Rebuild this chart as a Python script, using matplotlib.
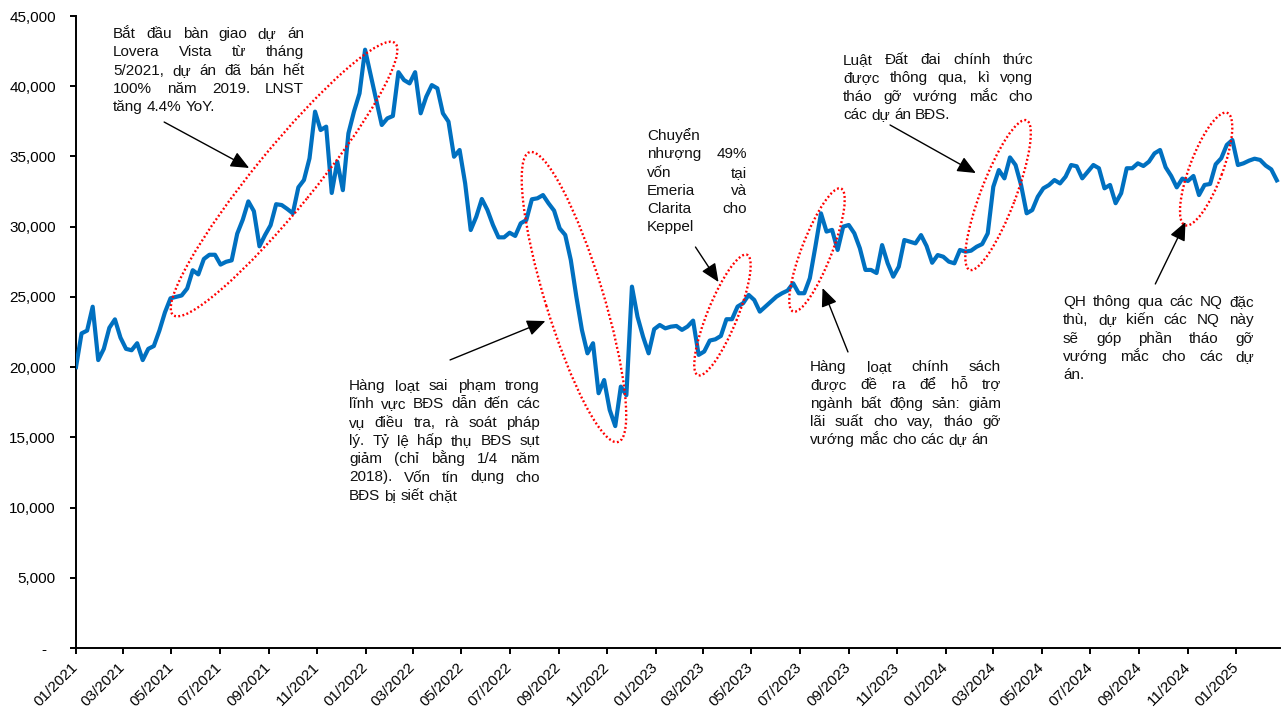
import numpy as np
import pandas as pd
import matplotlib
matplotlib.use('Agg')
import matplotlib.pyplot as plt
import matplotlib.dates as mdates
import matplotlib.transforms as mtransforms
from matplotlib.patches import Ellipse
from matplotlib.ticker import FuncFormatter, MultipleLocator

# font: Arial-like, có dấu tiếng Việt
plt.rcParams['font.family'] = ['Liberation Sans', 'Roboto', 'DejaVu Sans']
plt.rcParams['font.size'] = 11

# 1. Dữ liệu giá đóng cửa theo tuần (đồng), bắt đầu 01/01/2021
start_date = '2021-01-01'
price = [
    20000, 22400, 22600, 24300, 20500, 21300, 22800, 23400, 22100, 21300,
    21200, 21700, 20500, 21300, 21500, 22600, 23900, 24900, 25000, 25100,
    25600, 26900, 26600, 27700, 28000, 28000, 27300, 27500, 27600, 29500,
    30500, 31800, 31100, 28600, 29400, 30100, 31600,
    31540, 31260, 30950, 32800, 33320, 34860, 38190, 36880, 37120, 32400,
    34630, 32600, 36640, 38190, 39490, 42600, 40800, 39020, 37240, 37710,
    37880, 41000, 40440, 40200, 41000, 38070, 39250, 40080, 39850, 38070,
    37480, 34980, 35460, 33080, 29760, 30710,
    31970, 31190, 30120, 29240, 29240, 29570, 29340, 30240, 30470, 31950,
    32020, 32250, 31660, 31140, 29880, 29410, 27630, 25020, 22650, 20980,
    21700, 18140, 19080, 16950, 15800, 18610, 18000, 25730, 23590, 22170,
    20980, 22700, 23000, 22760, 22880, 22930,
    22650, 22890, 23310, 20870, 21110, 21890, 21980, 22220, 23410, 23410,
    24310, 24550, 25140, 24780, 23950, 24310, 24660, 25020, 25260, 25450,
    25970, 25260, 25260, 26330, 28580, 30950, 29650, 29770, 28340, 30000,
    30120, 29530, 28460, 26920, 26920, 26700,
    28690, 27390, 26440, 27150, 29050, 28930, 28810, 29400, 28620, 27430,
    27980, 27860, 27510, 27390, 28340, 28220, 28290, 28570, 28760, 29520,
    32840, 34030, 33440, 34930, 34390, 32960, 30950, 31180, 32130, 32730,
    32960, 33320, 33080, 33560, 34390, 34300,
    33440, 33920, 34390, 34160, 32730, 32970, 31670, 32380, 34160, 34160,
    34510, 34320, 34630, 35220, 35460, 34230, 33610, 32800, 33420, 33250,
    33610, 32250, 32970, 33040, 34440, 34870, 35820, 36170, 34390, 34510,
    34700, 34840, 34750, 34350, 34080, 33300,
]
dates = pd.date_range(start_date, periods=len(price), freq='7D')

# 2. Các vùng khoanh đỏ: tâm (ngày, giá), kích thước (px), góc
ell_center_date = ['2021-09-20', '2022-09-20', '2023-03-26', '2023-07-23', '2024-03-07', '2024-11-24']
ell_center_val = [33390, 24990, 23710, 28340, 32250, 34100]
ell_size = [(351, 60), (303, 58), (130, 30), (132, 30), (160, 35), (120, 33)]
ell_angle = [50.8, -73, 67.8, 68.7, 69.2, 69.4]

# 3. Mũi tên: đuôi -> đầu (ngày, giá)
arrow_tail = [('2021-04-22', 37450), ('2022-04-17', 20510), ('2023-02-20', 28550),
              ('2023-08-31', 21080), ('2023-10-23', 37240), ('2024-09-21', 25920)]
arrow_head = [('2021-08-07', 34180), ('2022-08-15', 23280), ('2023-03-21', 26060),
              ('2023-07-30', 25630), ('2024-02-08', 33820), ('2024-10-29', 30330)]

# 4. Ghi chú (căn đều hai bên)
notes = [
    ["Bắt đầu bàn giao dự án", "Lovera Vista từ tháng", "5/2021, dự án đã bán hết",
     "100% năm 2019. LNST", "tăng 4.4% YoY."],
    ["Hàng loạt sai phạm trong", "lĩnh vực BĐS dẫn đến các", "vụ điều tra, rà soát pháp",
     "lý. Tỷ lệ hấp thụ BĐS sụt", "giảm (chỉ bằng 1/4 năm", "2018). Vốn tín dụng cho",
     "BĐS bị siết chặt"],
    ["Chuyển", "nhượng 49%", "vốn tại", "Emeria và", "Clarita cho", "Keppel"],
    ["Hàng loạt chính sách", "được đề ra để hỗ trợ", "ngành bất động sản: giảm",
     "lãi suất cho vay, tháo gỡ", "vướng mắc cho các dự án"],
    ["Luật Đất đai chính thức", "được thông qua, kì vọng", "tháo gỡ vướng mắc cho",
     "các dự án BĐS."],
    ["QH thông qua các NQ đặc", "thù, dự kiến các NQ này", "sẽ góp phần tháo gỡ",
     "vướng mắc cho các dự", "án."],
]
# vị trí khung chữ (px tính từ góc trên trái): trái, phải, baseline dòng đầu
note_box = [(113, 304, 38), (349, 540, 390), (647, 747, 140),
            (810, 1001, 371), (843, 1033, 64), (1063, 1254, 306)]

# 5. Vẽ
W, H = 1285, 713
fig = plt.figure(figsize=(W / 100, H / 100), dpi=100)
ax = fig.add_axes([76 / W, 1 - 648 / H, (1280 - 76) / W, (648 - 16) / H])

ax.plot(dates, price, color='#0070C0', lw=3.0, solid_joinstyle='round', zorder=3)

ax.set_xlim(pd.Timestamp('2021-01-01'), pd.Timestamp('2025-02-25'))
ax.set_ylim(0, 45000)
ax.yaxis.set_major_locator(MultipleLocator(5000))
ax.yaxis.set_major_formatter(FuncFormatter(lambda v, p: '-  ' if v == 0 else f'{v:,.0f}'))
ax.xaxis.set_major_locator(mdates.MonthLocator(bymonth=[1, 3, 5, 7, 9, 11]))
ax.xaxis.set_major_formatter(mdates.DateFormatter('%m/%Y'))
for s in ['top', 'right']:
    ax.spines[s].set_visible(False)
for s in ['left', 'bottom']:
    ax.spines[s].set_linewidth(1.4)
ax.tick_params(axis='both', direction='out', length=4.5, width=1.4, labelsize=11)
ax.tick_params(axis='y', pad=10)
ax.tick_params(axis='x', pad=8)
for lab in ax.get_xticklabels():
    lab.set_rotation(45)
    lab.set_ha('right')
    lab.set_va('center')
    lab.set_rotation_mode('anchor')

# vòng elip chấm đỏ
for d, v, (w, h), a in zip(ell_center_date, ell_center_val, ell_size, ell_angle):
    cx, cy = ax.transData.transform((mdates.date2num(pd.Timestamp(d)), v))
    ax.add_patch(Ellipse((cx, cy), w, h, angle=a, transform=mtransforms.IdentityTransform(),
                         fill=False, ec='red', lw=1.7, ls=(0, (0.8, 1.0)), clip_on=False, zorder=4))

# mũi tên
for (td, tv), (hd, hv) in zip(arrow_tail, arrow_head):
    ax.annotate('', xy=(mdates.date2num(pd.Timestamp(hd)), hv),
                xytext=(mdates.date2num(pd.Timestamp(td)), tv),
                arrowprops=dict(arrowstyle='-|>,head_length=0.8,head_width=0.35',
                                color='black', lw=1.0, mutation_scale=14,
                                shrinkA=0, shrinkB=0),
                annotation_clip=False, zorder=5)

# chữ căn đều
px = mtransforms.Affine2D().scale(1, -1).translate(0, H)
renderer = fig.canvas.get_renderer()
step = 18.3
space = 11 * 100 / 72 * 0.278
for lines, (left, right, top) in zip(notes, note_box):
    for i, line in enumerate(lines):
        words = line.split()
        arts = [fig.text(0, 0, w, transform=px, fontsize=11, va='baseline', color='#111111')
                for w in words]
        widths = [a.get_window_extent(renderer).width for a in arts]
        last = i == len(lines) - 1 or len(words) == 1
        gap = space if last else (right - left - sum(widths)) / (len(words) - 1)
        x = left
        for a, w in zip(arts, widths):
            a.set_position((x, top + i * step))
            x += w + gap

fig.savefig('out.png', dpi=100)
